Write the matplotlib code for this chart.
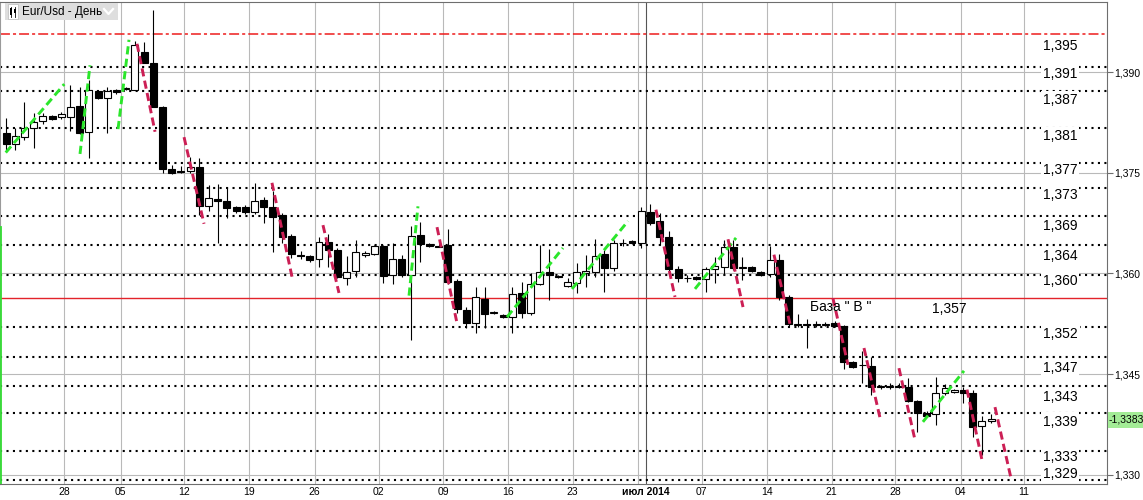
import matplotlib
matplotlib.use('Agg')
import matplotlib.pyplot as plt
from matplotlib.patches import Rectangle
from matplotlib.lines import Line2D

# ---------------- data ----------------
opens = [1.3809,1.3793,1.3803,1.3817,1.3827,1.3834,1.3833,1.3833,1.3849,1.3811,
         1.3872,1.3861,1.3873,1.3875,1.3873,1.3930,1.3913,1.3848,1.3756,1.3753,
         1.3753,1.3759,1.3700,1.3711,1.3708,1.3699,1.3699,1.3691,1.3709,1.3699,
         1.3687,1.3656,1.3628,1.3626,1.3622,1.3647,1.3635,1.3593,1.3604,1.3628,
         1.3629,1.3641,1.3598,1.3622,1.3598,1.3657,1.3644,1.3641,1.3642,1.3589,
         1.3546,1.3526,1.3562,1.3541,1.3538,1.3535,1.3571,1.3541,1.3584,1.3602,
         1.3596,1.3581,1.3586,1.3601,1.3602,1.3629,1.3608,1.3645,1.3648,1.3645,
         1.3691,1.3678,1.3654,1.3607,1.3593,1.3595,1.3592,1.3607,1.3610,1.3639,
         1.3608,1.3610,1.3602,1.3599,1.3620,1.3565,1.3524,1.3525,1.3524,1.3524,
         1.3526,1.3522,1.3468,1.3463,1.3462,1.3431,1.3431,1.3432,1.3431,1.3410,
         1.3392,1.3391,1.3422,1.3423,1.3426,1.3422,1.3373,1.3380]
highs = [1.3831,1.3817,1.3855,1.3839,1.3839,1.3836,1.3840,1.3881,1.3877,1.3888,
         1.3873,1.3877,1.3875,1.3878,1.3946,1.3945,1.3992,1.3849,1.3762,1.3760,
         1.3774,1.3772,1.3732,1.3733,1.3727,1.3700,1.3702,1.3735,1.3714,1.3723,
         1.3690,1.3659,1.3634,1.3628,1.3654,1.3659,1.3638,1.3626,1.3650,1.3634,
         1.3642,1.3642,1.3645,1.3628,1.3671,1.3677,1.3645,1.3642,1.3666,1.3592,
         1.3550,1.3580,1.3580,1.3544,1.3540,1.3580,1.3587,1.3601,1.3642,1.3636,
         1.3598,1.3593,1.3616,1.3628,1.3651,1.3635,1.3650,1.3651,1.3650,1.3699,
         1.3703,1.3690,1.3663,1.3611,1.3598,1.3596,1.3610,1.3625,1.3650,1.3650,
         1.3625,1.3611,1.3604,1.3641,1.3629,1.3568,1.3539,1.3532,1.3529,1.3528,
         1.3529,1.3524,1.3469,1.3485,1.3476,1.3434,1.3437,1.3437,1.3444,1.3412,
         1.3395,1.3446,1.3435,1.3428,1.3431,1.3426,1.3388,1.3391]
lows = [1.3784,1.3784,1.3799,1.3787,1.3823,1.3829,1.3830,1.3812,1.3808,1.3772,
        1.3860,1.3809,1.3867,1.3873,1.3873,1.3913,1.3848,1.3750,1.3748,1.3750,
        1.3750,1.3687,1.3693,1.3645,1.3683,1.3690,1.3688,1.3688,1.3675,1.3632,
        1.3645,1.3623,1.3622,1.3617,1.3610,1.3610,1.3593,1.3583,1.3595,1.3625,
        1.3628,1.3586,1.3584,1.3595,1.3501,1.3617,1.3639,1.3639,1.3584,1.3541,
        1.3519,1.3511,1.3519,1.3539,1.3534,1.3511,1.3534,1.3538,1.3583,1.3560,
        1.3593,1.3580,1.3571,1.3580,1.3595,1.3572,1.3604,1.3641,1.3644,1.3638,
        1.3672,1.3642,1.3602,1.3587,1.3587,1.3591,1.3572,1.3586,1.3598,1.3605,
        1.3590,1.3602,1.3596,1.3595,1.3560,1.3521,1.3521,1.3489,1.3521,1.3522,
        1.3521,1.3458,1.3459,1.3437,1.3419,1.3428,1.3428,1.3429,1.3408,1.3364,
        1.3386,1.3374,1.3419,1.3422,1.3407,1.3357,1.3330,1.3377]
closes = [1.3793,1.3805,1.3817,1.3826,1.3834,1.3830,1.3837,1.3848,1.3809,1.3873,
          1.3861,1.3872,1.3870,1.3876,1.3940,1.3913,1.3848,1.3756,1.3750,1.3751,
          1.3759,1.3700,1.3712,1.3708,1.3697,1.3693,1.3691,1.3708,1.3699,1.3684,
          1.3654,1.3629,1.3626,1.3620,1.3647,1.3635,1.3595,1.3602,1.3632,1.3630,
          1.3641,1.3596,1.3622,1.3598,1.3656,1.3644,1.3641,1.3640,1.3587,1.3547,
          1.3526,1.3565,1.3539,1.3543,1.3535,1.3569,1.3541,1.3584,1.3602,1.3598,
          1.3595,1.3587,1.3602,1.3604,1.3626,1.3608,1.3645,1.3646,1.3645,1.3693,
          1.3675,1.3654,1.3607,1.3593,1.3594,1.3592,1.3607,1.3611,1.3639,1.3608,
          1.3609,1.3604,1.3598,1.3620,1.3565,1.3525,1.3525,1.3524,1.3525,1.3525,
          1.3522,1.3468,1.3461,1.3464,1.3431,1.3432,1.3432,1.3431,1.3410,1.3392,
          1.3388,1.3422,1.3429,1.3426,1.3422,1.3371,1.3380,1.3383]

# date grid (bar-index positions of weekly separators) and labels
week_pos = [6.3, 12.46, 19.37, 26.43, 33.53, 40.48, 47.5, 54.5, 61.56, 68.6,
            75.57, 82.63, 89.7, 96.57, 103.7, 110.6]
week_labels = ['28', '05', '12', '19', '26', '02', '09', '16', '23', '',
               '07', '14', '21', '28', '04', '11']
month_pos = 69.55
month_label = 'июл 2014'

price_ticks = [1.390, 1.375, 1.360, 1.345, 1.330]
price_tick_labels = ['1,390', '1,375', '1,360', '1,345', '1,330']

level_vals = [1.3908, 1.3872, 1.3817, 1.3764, 1.3728, 1.3685, 1.3642, 1.3598,
              1.3521, 1.3475, 1.3433, 1.3392, 1.3336, 1.3292]
level_labels = ['1,391', '1,387', '1,381', '1,377', '1,373', '1,369', '1,364',
                '1,360', '1,352', '1,347', '1,343', '1,339', '1,333', '1,329']
resist_val = 1.3956
resist_label = '1,395'
base_val = 1.3564
base_text = 'База " В "'
base_label = '1,357'
last_price_label = '1,3383'

# short trend segments (x0, p0, x1, p1) in bar index / price
green_segs = [(-0.03, 1.3780, 6.33, 1.3882), (8.04, 1.3778, 9.12, 1.3910),
              (12.17, 1.3815, 13.36, 1.3948), (43.78, 1.3567, 44.75, 1.3700),
              (54.42, 1.3535, 60.5, 1.3638), (61.48, 1.3577, 67.57, 1.3678),
              (74.84, 1.3577, 79.3, 1.3653), (99.6, 1.3379, 104.06, 1.3455)]
red_segs = [(14.23, 1.3942, 16.19, 1.3811), (19.34, 1.3803, 21.51, 1.3674),
            (28.89, 1.3735, 31.07, 1.3595), (34.43, 1.3672, 36.17, 1.3571),
            (46.82, 1.3669, 48.99, 1.3526), (70.6, 1.3695, 72.67, 1.3565),
            (78.43, 1.3651, 80.06, 1.3550), (83.42, 1.3628, 85.16, 1.3525),
            (89.83, 1.3563, 91.46, 1.3464), (93.2, 1.3489, 94.94, 1.3385),
            (97.0, 1.3459, 98.74, 1.3352), (104.39, 1.3427, 106.02, 1.3322),
            (107.43, 1.3401, 109.17, 1.3295)]

# label vertical offsets relative to each level line (pixels, + = up; styling only)
label_offsets_px = [-7.4, -9, -8.7, -6.7, -7.7, -9.3, -10.7, -6.4, -7.3,
                    -10.6, -11, -8.4, -6.5, 6.7]

# ---------------- figure ----------------
W, H = 1143, 500
fig = plt.figure(figsize=(W / 100, H / 100), dpi=100)
fig.patch.set_facecolor('white')
ax = fig.add_axes([0, 1 - 484 / H, 1107.3 / W, (484 - 1.5) / H])
ax.set_xlim(-0.652, 119.63)
ax.set_ylim(1.32865, 1.4005)

GRID = '#b9b9b9'
for p in price_ticks:
    ax.axhline(p, color=GRID, lw=0.8, zorder=1)
for xp in week_pos:
    ax.axvline(xp, color=GRID, lw=0.8, zorder=1)
ax.axvline(month_pos, color='#555555', lw=0.8, zorder=1)

# dotted levels
for v in level_vals:
    ax.axhline(v, color='black', lw=1.5, linestyle=(0, (1, 2.1)), zorder=2)
ax.axhline(resist_val, color='#ee1c1c', lw=1.1,
           linestyle=(0, (6.5, 2, 2, 2)), zorder=2)
ax.axhline(base_val, color='#e3232a', lw=1.0, zorder=2)

# candles
xs = list(range(len(opens)))
ax.vlines(xs, lows, highs, color='black', lw=0.8, zorder=3)
bottoms = [min(o, c) for o, c in zip(opens, closes)]
heights = [abs(c - o) for o, c in zip(opens, closes)]
faces = ['white' if c >= o else 'black' for o, c in zip(opens, closes)]
ax.bar(xs, heights, bottom=bottoms, width=0.76, color=faces,
       edgecolor='black', linewidth=0.8, zorder=4)

# trend segments
for (x0, p0, x1, p1) in green_segs:
    ax.plot([x0, x1], [p0, p1], color='#2be62b', lw=2.1,
            linestyle=(0, (2.8, 1.5)), zorder=5, solid_capstyle='butt')
for (x0, p0, x1, p1) in red_segs:
    ax.plot([x0, x1], [p0, p1], color='#cc1f55', lw=2.1,
            linestyle=(0, (2.8, 1.5)), zorder=5, solid_capstyle='butt')
ax.plot([-0.55, -0.55], [1.3669, 1.3286], color='#33dd33', lw=1.3, zorder=5)

# level labels
LF = ['Liberation Sans', 'DejaVu Sans']
box = dict(boxstyle='square,pad=0.15', fc='white', ec='none')
lab_x = 114.5
for v, t, o in zip(level_vals, level_labels, label_offsets_px):
    ax.annotate(t, xy=(lab_x, v), xytext=(0, o * 0.72),
                textcoords='offset points', ha='center', va='center',
                fontsize=10, family=LF, bbox=box, zorder=6)
ax.annotate(resist_label, xy=(lab_x, resist_val), xytext=(0, -8),
            textcoords='offset points', ha='center', va='center',
            fontsize=10, family=LF, bbox=box, zorder=6)
ax.annotate(base_text, xy=(87.3, base_val), xytext=(0, -7),
            textcoords='offset points', ha='left', va='center',
            fontsize=10, family=LF, zorder=6)
ax.annotate(base_label, xy=(102.5, base_val), xytext=(0, -8),
            textcoords='offset points', ha='center', va='center',
            fontsize=10, family=LF, zorder=6)

# axes styling
for s in ['top', 'right', 'bottom']:
    ax.spines[s].set_color('#6e6e6e')
ax.spines['left'].set_color('#9a9a9a')
ax.yaxis.tick_right()
ax.set_yticks(price_ticks)
ax.set_yticklabels(price_tick_labels, family=LF)
ax.tick_params(axis='y', length=4, color='#6e6e6e', labelsize=7.5, pad=1)
ax.set_xticks(week_pos + [month_pos])
ax.set_xticklabels(week_labels + [month_label], family=LF)
ax.tick_params(axis='x', length=0, labelsize=7.5, pad=2)
for lbl in ax.get_xticklabels():
    if lbl.get_text() == month_label:
        lbl.set_fontweight('bold')

# top-left title box
def fx(px):
    return px / W
def fy(py):
    return 1 - py / H
fig.patches.append(Rectangle((fx(5), fy(20)), fx(113), 17 / H,
                             transform=fig.transFigure, fc='#dedede',
                             ec='none', zorder=10))
fig.patches.append(Rectangle((fx(8), fy(18.5)), fx(10), 14 / H,
                             transform=fig.transFigure, fc='white',
                             ec='#bbbbbb', lw=0.5, zorder=11))
for cx, y0, y1, b0, b1 in [(11, 6.5, 17, 8.5, 14.5), (15, 7, 16.5, 9, 13)]:
    fig.lines.append(Line2D([fx(cx), fx(cx)], [fy(y1), fy(y0)],
                            transform=fig.transFigure, color='black',
                            lw=0.6, zorder=12))
    fig.patches.append(Rectangle((fx(cx - 1.3), fy(b1)), fx(2.6),
                                 (b1 - b0) / H, transform=fig.transFigure,
                                 fc='black', ec='none', zorder=12))
fig.text(fx(22), fy(11.5), 'Eur/Usd - День', fontsize=8.5, family=LF,
         va='center', ha='left', zorder=12)
fig.lines.append(Line2D([fx(104), fx(108.5), fx(113)], [fy(9), fy(14), fy(9)],
                        transform=fig.transFigure, color='white', lw=1.6,
                        zorder=12))

# last price marker on the right axis
fig.patches.append(Rectangle((fx(1108), fy(428)), fx(35), 16 / H,
                             transform=fig.transFigure, fc='#a3ec96',
                             ec='none', zorder=10))
fig.text(fx(1108.5), fy(420), '-' + last_price_label, fontsize=7.5,
         family=LF, va='center', ha='left', zorder=11)

fig.savefig('out.png', dpi=100)
